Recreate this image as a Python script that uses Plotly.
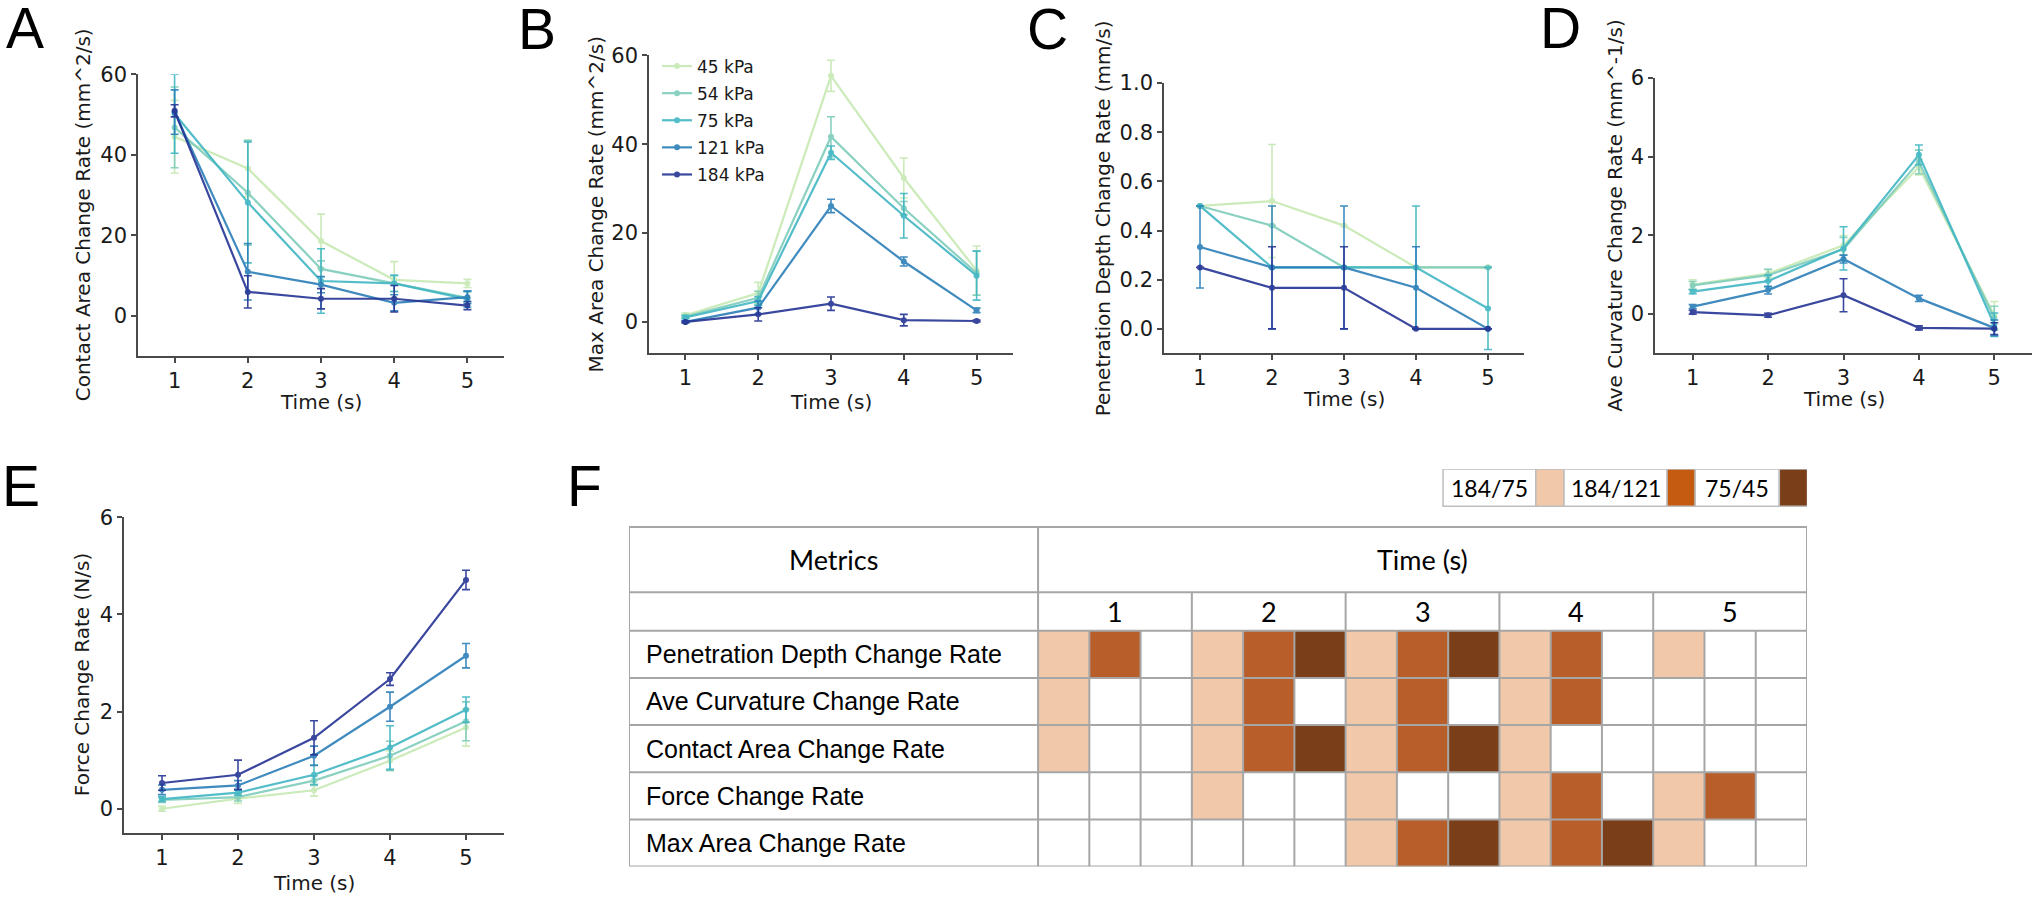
import plotly.graph_objects as go

W, H = 2044, 911

# ---------------- data ----------------
time_s = [1, 2, 3, 4, 5]
pressures = ["45 kPa", "54 kPa", "75 kPa", "121 kPa", "184 kPa"]
line_colors = ["#c7e9b4", "#7fcdbb", "#41b6c4", "#2c7fb8", "#253494"]

contact_mean = [
    [44.5, 36.6, 18.6, 9.0, 8.1],
    [46.8, 30.6, 11.7, 8.1, 4.5],
    [50.2, 28.2, 8.7, 8.1, 4.2],
    [50.6, 11.0, 7.8, 3.3, 4.7],
    [50.9, 6.0, 4.3, 4.3, 2.6],
]
contact_err = [
    [9.0, 7.0, 6.7, 4.5, 1.0],
    [10.0, 13.0, 2.0, 2.0, 1.5],
    [9.8, 15.0, 8.0, 2.0, 2.0],
    [5.5, 7.0, 2.0, 2.0, 1.5],
    [1.5, 4.0, 2.5, 3.3, 1.0],
]

maxarea_mean = [
    [1.5, 6.5, 55.4, 32.4, 11.6],
    [1.2, 5.4, 41.7, 25.6, 11.0],
    [1.0, 4.7, 38.1, 23.9, 10.4],
    [0.0, 3.2, 26.1, 13.6, 2.6],
    [0.0, 1.7, 4.1, 0.4, 0.2],
]
maxarea_err = [
    [0.5, 2.4, 3.5, 4.5, 5.5],
    [0.4, 1.5, 4.5, 1.5, 5.0],
    [0.3, 1.0, 1.5, 5.0, 5.5],
    [0.2, 1.5, 1.5, 1.0, 0.5],
    [0.2, 1.5, 1.5, 1.3, 0.2],
]

penetration_mean = [
    [0.5, 0.52, 0.42, 0.25, 0.25],
    [0.5, 0.42, 0.25, 0.25, 0.25],
    [0.5, 0.25, 0.25, 0.25, 0.083],
    [0.333, 0.25, 0.25, 0.167, 0.0],
    [0.25, 0.167, 0.167, 0.0, 0.0],
]
penetration_err = [
    [0.0, 0.23, 0.0, 0.0, 0.0],
    [0.0, 0.0, 0.0, 0.0, 0.0],
    [0.0, 0.0, 0.0, 0.25, 0.167],
    [0.167, 0.25, 0.25, 0.167, 0.0],
    [0.0, 0.167, 0.167, 0.0, 0.0],
]

curvature_mean = [
    [0.75, 1.03, 1.75, 3.74, -0.03],
    [0.73, 0.99, 1.65, 3.87, -0.10],
    [0.57, 0.84, 1.67, 4.05, -0.27],
    [0.19, 0.61, 1.40, 0.40, -0.35],
    [0.05, -0.03, 0.48, -0.35, -0.37],
]
curvature_err = [
    [0.12, 0.10, 0.25, 0.20, 0.35],
    [0.10, 0.15, 0.30, 0.30, 0.30],
    [0.05, 0.15, 0.55, 0.25, 0.30],
    [0.05, 0.10, 0.10, 0.08, 0.20],
    [0.05, 0.05, 0.42, 0.05, 0.15],
]

force_mean = [
    [0.00, 0.21, 0.38, 0.99, 1.67],
    [0.18, 0.24, 0.58, 1.09, 1.80],
    [0.20, 0.33, 0.70, 1.26, 2.04],
    [0.39, 0.48, 1.09, 2.10, 3.15],
    [0.53, 0.70, 1.46, 2.67, 4.71],
]
force_err = [
    [0.05, 0.10, 0.12, 0.20, 0.38],
    [0.05, 0.08, 0.10, 0.30, 0.40],
    [0.05, 0.05, 0.20, 0.45, 0.26],
    [0.10, 0.10, 0.20, 0.30, 0.25],
    [0.15, 0.30, 0.35, 0.13, 0.20],
]

# Table F: significance code per (metric, time x comparison)
# 0 = none, 1 = 184/75, 2 = 184/121, 3 = 75/45
metric_names = [
    "Penetration Depth Change Rate",
    "Ave Curvature Change Rate",
    "Contact Area Change Rate",
    "Force Change Rate",
    "Max Area Change Rate",
]
sig_penetration = [1, 2, 0, 1, 2, 3, 1, 2, 3, 1, 2, 0, 1, 0, 0]
sig_curvature = [1, 0, 0, 1, 2, 0, 1, 2, 0, 1, 2, 0, 0, 0, 0]
sig_contact = [1, 0, 0, 1, 2, 3, 1, 2, 3, 1, 0, 0, 0, 0, 0]
sig_force = [0, 0, 0, 1, 0, 0, 1, 0, 0, 1, 2, 0, 1, 2, 0]
sig_maxarea = [0, 0, 0, 0, 0, 0, 1, 2, 3, 1, 2, 3, 1, 0, 0]
table_times = ["1", "2", "3", "4", "5"]
comparisons = ["184/75", "184/121", "75/45"]
sig_colors = ["#f1c8aa", "#b85e2a", "#7a3f18"]
legend_swatch_colors = ["#f1c8aa", "#c55a11", "#7a3f18"]

# ---------------- layout helpers ----------------
def px_x(p):
    return p / W

def px_y(p):
    return 1 - p / H

FONT = "DejaVu Sans"
AX_COLOR = "#4a4a4a"
TXT = "#1a1a1a"
TICK_SIZE = 21
TITLE_SIZE = 20

panels = [
    # letter, mean, err, ytitle, yrange, ytickvals, ytickfmt, x px domain, y px domain, ytitle_x, xtitle_y, letter pos
    ("A", contact_mean, contact_err, "Contact Area Change Rate (mm^2/s)", [-10, 60], [0, 20, 40, 60], None,
     (138, 504), (63, 349), 83, 395, (25, 28)),
    ("B", maxarea_mean, maxarea_err, "Max Area Change Rate (mm^2/s)", [-7.1, 60], [0, 20, 40, 60], None,
     (649, 1013), (44, 346), 596, 395, (537, 29)),
    ("C", penetration_mean, penetration_err, "Penetration Depth Change Rate (mm/s)", [-0.1, 1.0],
     [0, 0.2, 0.4, 0.6, 0.8, 1.0], ".1f", (1164, 1524), (72, 346), 1103, 392, (1047, 29)),
    ("D", curvature_mean, curvature_err, "Ave Curvature Change Rate (mm^-1/s)", [-1, 6], [0, 2, 4, 6], None,
     (1655, 2032), (67, 346), 1615, 392, (1560, 28)),
    ("E", force_mean, force_err, "Force Change Rate (N/s)", [-0.5, 6], [0, 2, 4, 6], None,
     (124, 504), (512, 832), 82, 883, (21, 492)),
]

fig = go.Figure()
layout = dict(
    width=W, height=H, margin=dict(l=0, r=0, t=0, b=0),
    paper_bgcolor="white", plot_bgcolor="white",
    font=dict(family=FONT, color=TXT),
    showlegend=True,
)
annotations = []
shapes = []

for i, (letter, mean, err, ytitle, yr, ytv, yfmt, xd, yd, ytx, xty, lpos) in enumerate(panels):
    n = i + 1
    xa = "x" if n == 1 else f"x{n}"
    ya = "y" if n == 1 else f"y{n}"
    for k, p in enumerate(pressures):
        fig.add_trace(go.Scatter(
            x=time_s, y=mean[k], mode="lines+markers",
            name=p, legendgroup=p, showlegend=(letter == "B"),
            line=dict(color=line_colors[k], width=2.2),
            marker=dict(color=line_colors[k], size=6),
            opacity=0.9,
            error_y=dict(type="data", array=err[k], visible=True,
                         color=line_colors[k], thickness=1.6, width=4),
            xaxis=xa, yaxis=ya, hoverinfo="skip",
        ))
    axkw = dict(showline=True, linecolor=AX_COLOR, linewidth=1.6, ticks="outside",
                ticklen=5, tickwidth=1.6, tickcolor=AX_COLOR, showgrid=False,
                zeroline=False, tickfont=dict(family=FONT, size=TICK_SIZE, color=TXT))
    layout["xaxis" if n == 1 else f"xaxis{n}"] = dict(
        domain=[px_x(xd[0]), px_x(xd[1])], anchor=ya, range=[0.5, 5.5],
        tickvals=time_s, **axkw)
    ydict = dict(domain=[px_y(yd[1]), px_y(yd[0])], anchor=xa, range=yr,
                 tickvals=ytv, **axkw)
    if yfmt:
        ydict["tickformat"] = yfmt
    layout["yaxis" if n == 1 else f"yaxis{n}"] = ydict
    # axis titles
    annotations.append(dict(text=ytitle, x=px_x(ytx), y=px_y((yd[0] + yd[1]) / 2),
                            xref="paper", yref="paper", textangle=-90, showarrow=False,
                            xanchor="center", yanchor="middle",
                            font=dict(family=FONT, size=TITLE_SIZE, color=TXT)))
    annotations.append(dict(text="Time (s)", x=px_x((xd[0] + xd[1]) / 2), y=px_y(xty),
                            xref="paper", yref="paper", showarrow=False,
                            xanchor="center", yanchor="middle",
                            font=dict(family=FONT, size=TITLE_SIZE, color=TXT)))
    annotations.append(dict(text=letter, x=px_x(lpos[0]), y=px_y(lpos[1] - 12),
                            xref="paper", yref="paper", showarrow=False,
                            xanchor="center", yanchor="middle",
                            font=dict(family="Liberation Sans", size=57, color="black")))

# ---------------- panel F (table) ----------------
sig_rows = [sig_penetration, sig_curvature, sig_contact, sig_force, sig_maxarea]
n_sub = len(table_times) * len(comparisons)
metric_left = -7.98
hdr_top, hdr_bot, sub_bot = -2.697, -1.316, -0.5
leg_top, leg_bot = -3.93, -3.136

fig.add_trace(go.Heatmap(
    z=sig_rows, x=[c + 0.5 for c in range(n_sub)], y=list(range(len(metric_names))),
    zmin=0, zmax=3, showscale=False, hoverinfo="skip",
    colorscale=[[0, "white"], [1 / 6, "white"], [1 / 6, sig_colors[0]], [0.5, sig_colors[0]],
                [0.5, sig_colors[1]], [5 / 6, sig_colors[1]], [5 / 6, sig_colors[2]], [1, sig_colors[2]]],
    xaxis="x6", yaxis="y6", showlegend=False,
))
layout["xaxis6"] = dict(domain=[px_x(629), px_x(1807)], anchor="y6",
                        range=[metric_left, n_sub], visible=False)
layout["yaxis6"] = dict(domain=[px_y(866), px_y(463)], anchor="x6",
                        range=[len(metric_names) - 0.5, leg_top], visible=False)

GRID = "#a6a6a6"

def tline(x0, y0, x1, y1):
    shapes.append(dict(type="line", xref="x6", yref="y6", x0=x0, y0=y0, x1=x1, y1=y1,
                       line=dict(color=GRID, width=2), layer="above"))

nrows = len(metric_names)
for yv in [hdr_top, hdr_bot, sub_bot] + [r + 0.5 for r in range(nrows)]:
    tline(metric_left, yv, n_sub, yv)
for xv in [metric_left, 0, n_sub]:
    tline(xv, hdr_top, xv, nrows - 0.5)
for c in range(1, n_sub):
    if c % 3 == 0:
        tline(c, hdr_bot, c, nrows - 0.5)
    else:
        tline(c, sub_bot, c, nrows - 0.5)

annotations.append(dict(text="Metrics", x=metric_left / 2, y=(hdr_top + hdr_bot) / 2,
                        xref="x6", yref="y6", showarrow=False, xanchor="center", yanchor="middle",
                        font=dict(family="Lato", size=27, color="black")))
annotations.append(dict(text="Time (s)", x=n_sub / 2, y=(hdr_top + hdr_bot) / 2,
                        xref="x6", yref="y6", showarrow=False, xanchor="center", yanchor="middle",
                        font=dict(family="Lato", size=27, color="black")))
for t, lab in enumerate(table_times):
    annotations.append(dict(text=lab, x=3 * t + 1.5, y=(hdr_bot + sub_bot) / 2,
                            xref="x6", yref="y6", showarrow=False, xanchor="center", yanchor="middle",
                            font=dict(family="Lato", size=27, color="black")))
for r, name in enumerate(metric_names):
    annotations.append(dict(text=name, x=metric_left + 0.29, y=r,
                            xref="x6", yref="y6", showarrow=False, xanchor="left", yanchor="middle",
                            font=dict(family="Liberation Sans", size=25, color="black")))

# F legend (comparison key)
leg_text_w = [1.81, 2.01, 1.64]
sw_w = 0.55
xc = 7.9
for j, lab in enumerate(comparisons):
    shapes.append(dict(type="rect", xref="x6", yref="y6", x0=xc, x1=xc + leg_text_w[j],
                       y0=leg_top, y1=leg_bot, fillcolor="white",
                       line=dict(color="#bdbdbd", width=1.5)))
    annotations.append(dict(text=lab, x=xc + leg_text_w[j] / 2, y=(leg_top + leg_bot) / 2,
                            xref="x6", yref="y6", showarrow=False, xanchor="center", yanchor="middle",
                            font=dict(family="Lato", size=23, color="black")))
    xc += leg_text_w[j]
    shapes.append(dict(type="rect", xref="x6", yref="y6", x0=xc, x1=xc + sw_w,
                       y0=leg_top, y1=leg_bot, fillcolor=legend_swatch_colors[j],
                       line=dict(color="#bdbdbd", width=1.5)))
    xc += sw_w

annotations.append(dict(text="F", x=px_x(584), y=px_y(480), xref="paper", yref="paper",
                        showarrow=False, xanchor="center", yanchor="middle",
                        font=dict(family="Liberation Sans", size=57, color="black")))

layout["annotations"] = annotations
layout["shapes"] = shapes
layout["legend"] = dict(x=px_x(657), y=px_y(37), xanchor="left", yanchor="top",
                        bgcolor="rgba(0,0,0,0)", borderwidth=0,
                        font=dict(family=FONT, size=17, color=TXT),
                        tracegroupgap=2, traceorder="grouped", itemwidth=30)
fig.update_layout(**layout)
fig.write_html("out.html", config={"displayModeBar": False},
               post_script="document.body.style.margin='0';document.body.style.padding='0';")
